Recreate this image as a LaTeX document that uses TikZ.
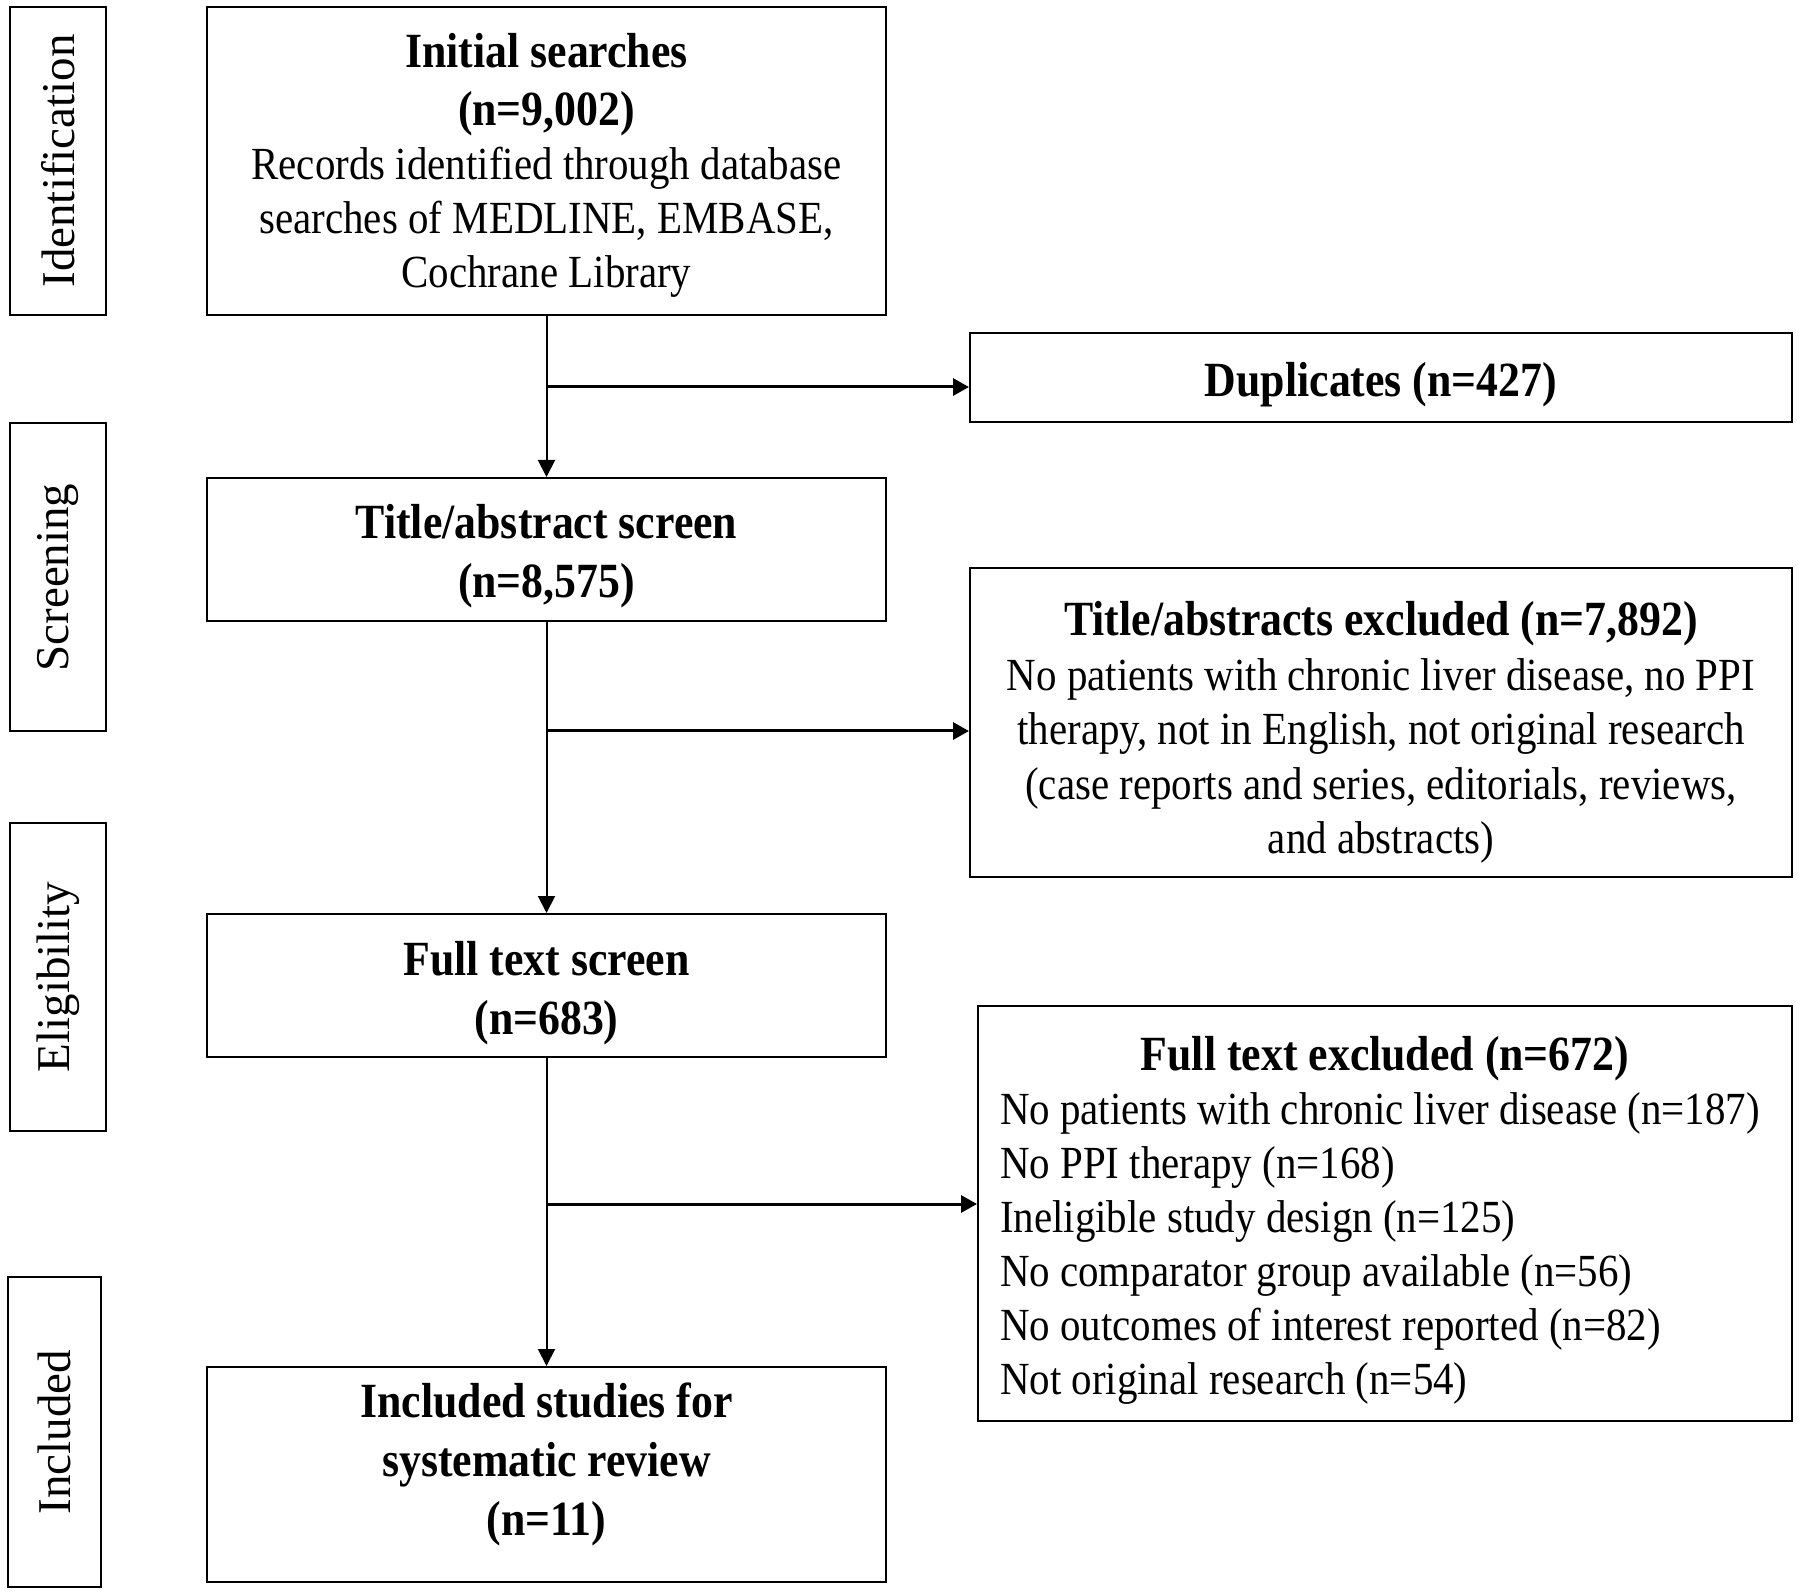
\documentclass[tikz,border=0pt]{standalone}
\usepackage{fontspec}
\setmainfont{Liberation Serif}[FakeStretch=0.89]
\newfontfamily\labelfont{Liberation Serif}
\usetikzlibrary{arrows.meta}
\newcommand\fixsp{\spaceskip\fontdimen2\font\xspaceskip\fontdimen2\font\relax}
\newcommand\nsz{\fontsize{23}{27}\selectfont}
\newcommand\nszw{\fontsize{23}{27.2}\selectfont}
\newcommand\bsz{\fontsize{24.6}{29.5}\selectfont\bfseries\fixsp}
\newcommand\fst{\fixsp\rule{0pt}{20pt}}
\begin{document}
\begin{tikzpicture}[x=0.5pt,y=-0.5pt,
  lab/.style={draw,line width=1pt,inner sep=0pt,rotate=90,minimum width=154pt,minimum height=48pt,font=\labelfont\fontsize{23.5}{28}\selectfont},
  frame/.style={draw,line width=1pt,inner sep=0pt},
  mainbox/.style={frame,minimum width=339.5pt},
  sidebox/.style={frame,minimum width=411pt},
  txt/.style={anchor=north,inner sep=0pt,align=center,font=\nsz},
  arr/.style={line width=1pt,-{Triangle[length=8.5pt,width=8.5pt]}},
  harr/.style={line width=1.5pt,-{Triangle[length=8pt,width=8.5pt]}}]
\useasboundingbox (0,0) rectangle (1800,1593);
% phase labels
\node[lab] (lid) at (58,161) {Identification};
\node[lab] (lsc) at (58,577.5) {Screening};
\node[lab] (lel) at (58,977) {Eligibility};
\node[lab,minimum height=46.5pt,minimum width=155pt] (lin) at (54.5,1432) {Included};
% main column boxes
\node[mainbox,minimum height=154pt] (ini) at (546.5,161) {};
\node[mainbox,minimum height=71.5pt] (tas) at (546.5,549.5) {};
\node[mainbox,minimum height=71.5pt] (fts) at (546.5,985.5) {};
\node[mainbox,minimum height=107.5pt] (inc) at (546.5,1474.5) {};
% side column boxes
\node[sidebox,minimum height=44.75pt] (dup) at (1381,377.75) {};
\node[sidebox,minimum height=154.5pt] (tae) at (1381,722.5) {};
\node[frame,minimum width=407pt,minimum height=207.5pt] (fte) at (1385,1213.5) {};
% texts
\node[txt,text width=330pt] (ini-t) at (546.5,27)
  {\fst{\bsz Initial searches}\\[2.3pt]{\bsz (n=9,002)}\\Records identified through database\\searches of MEDLINE, EMBASE,\\Cochrane Library};
\node[txt,text width=330pt,font=\bsz] (tas-t) at (546.5,498)
  {\fst Title/abstract screen\\(n=8,575)};
\node[txt,text width=330pt,font=\bsz] (fts-t) at (546.5,935)
  {\fst Full text screen\\(n=683)};
\node[txt,text width=330pt,font=\bsz] (inc-t) at (546.5,1377)
  {\fst Included studies for\\systematic review\\(n=11)};
\node[txt,text width=400pt,font=\bsz] (dup-t) at (1381,355.7)
  {\fst Duplicates (n=427)};
\node[txt,text width=400pt,font=\nszw] (tae-t) at (1381,595.5)
  {\fst{\bsz Title/abstracts excluded (n=7,892)}\\No patients with chronic liver disease, no PPI\\therapy, not in English, not original research\\(case reports and series, editorials, reviews,\\and abstracts)};
\node[txt,text width=385pt,align=left] (fte-t) at (1385,1030)
  {\fst\makebox[385pt][c]{\bsz Full text excluded (n=672)}\\
   \mbox{No patients with chronic liver disease (n=187)}\\
   \mbox{No PPI therapy (n=168)}\\
   \mbox{Ineligible study design (n=125)}\\
   \mbox{No comparator group available (n=56)}\\
   \mbox{No outcomes of interest reported (n=82)}\\
   \mbox{Not original research (n=54)}};
% connectors
\coordinate (b1) at (546.5,387);
\coordinate (b2) at (546.5,731);
\coordinate (b3) at (546.5,1204);
\draw[arr] (ini.south) -- (tas.north);
\draw[arr] (tas.south) -- (fts.north);
\draw[arr] (fts.south) -- (inc.north);
\draw[harr] (b1) -- (dup.west |- b1);
\draw[harr] (b2) -- (tae.west |- b2);
\draw[harr] (b3) -- (fte.west |- b3);
\end{tikzpicture}
\end{document}
